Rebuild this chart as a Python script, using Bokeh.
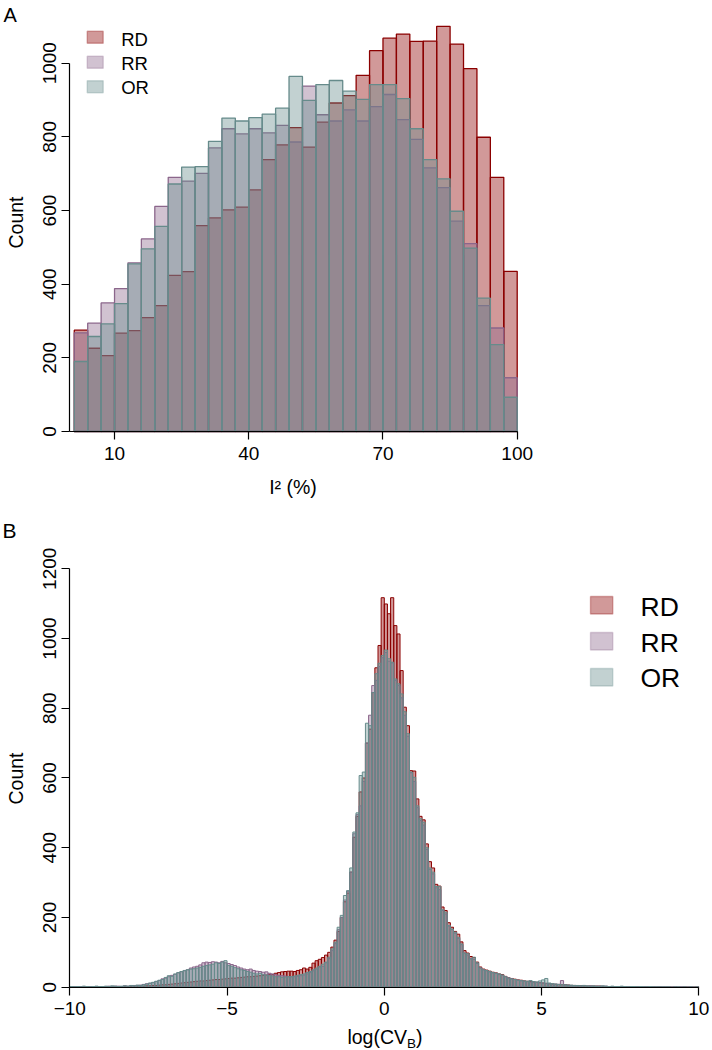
import numpy as np
from math import pi
from bokeh.plotting import figure
from bokeh.models import Label, BoxAnnotation, FixedTicker, Range1d
from bokeh.layouts import column
from bokeh.embed import file_html
from bokeh.resources import INLINE

# ---------------- data ----------------
series = ["RD", "RR", "OR"]
series_colors = ["#8B0000", "#8B668B", "#668B8B"]   # darkred, plum4, paleturquoise4

# Panel A: I^2 (%) histogram, 33 bins of width 3 starting at 1
i2_bin_start = 1
i2_bin_width = 3
i2_rd = [275, 226, 206, 267, 274, 309, 342, 424, 434, 559, 580, 602, 609, 656, 738, 778, 825,
         772, 840, 892, 912, 967, 1034, 1068, 1079, 1059, 1060, 1100, 1052, 985, 799, 690, 435]
i2_rr = [268, 294, 349, 388, 458, 523, 611, 690, 680, 701, 770, 822, 808, 822, 811, 831, 786,
         938, 860, 843, 873, 843, 882, 915, 847, 793, 716, 662, 571, 510, 342, 281, 146]
i2_or = [190, 258, 292, 347, 455, 496, 557, 672, 718, 719, 788, 851, 843, 852, 862, 878, 964,
         899, 942, 953, 924, 902, 942, 942, 904, 822, 738, 686, 598, 498, 362, 236, 93]
i2_xticks = [10, 40, 70, 100]
i2_yticks = [0, 200, 400, 600, 800, 1000]

# Panel B: log(CV_B) histogram, 200 bins of width 0.1 from -10 to 10
cv_bin_start = -10
cv_bin_width = 0.1
cv_rd = [
    1, 1, 1, 1, 1, 1, 1, 1, 1, 1,
    1, 1, 2, 1, 1, 2, 1, 2, 2, 2,
    2, 3, 3, 3, 4, 4, 5, 5, 6, 7,
    7, 8, 9, 10, 11, 12, 13, 14, 15, 16,
    17, 18, 18, 19, 20, 21, 22, 22, 23, 24,
    25, 26, 26, 27, 28, 29, 30, 30, 31, 32,
    33, 34, 35, 37, 36, 40, 42, 44, 45, 46,
    46, 45, 48, 50, 55, 52, 57, 69, 76, 80,
    85, 92, 100, 115, 135, 160, 200, 245, 270, 330,
    430, 490, 560, 600, 700, 740, 845, 916, 980, 1117,
    1099, 1071, 1117, 1037, 1013, 908, 803, 750, 621, 620,
    540, 490, 480, 411, 360, 342, 295, 290, 230, 220,
    185, 172, 160, 152, 130, 105, 98, 88, 85, 72,
    58, 52, 49, 46, 43, 41, 38, 36, 31, 27,
    25, 23, 21, 20, 18, 17, 16, 15, 14, 13,
    12, 11, 10, 9, 8, 8, 7, 7, 6, 5,
    5, 4, 4, 4, 3, 3, 3, 3, 3, 2,
    2, 2, 2, 2, 2, 2, 1, 2, 1, 1,
    1, 1, 1, 1, 1, 1, 1, 2, 1, 1,
    1, 0, 1, 0, 0, 1, 0, 0, 0, 1]
cv_rr = [
    1, 2, 1, 2, 1, 1, 2, 1, 2, 1,
    2, 2, 3, 2, 3, 3, 2, 4, 3, 4,
    5, 5, 6, 8, 10, 11, 13, 16, 19, 24,
    26, 30, 34, 37, 41, 44, 47, 50, 55, 58,
    60, 64, 70, 72, 71, 73, 72, 70, 74, 70,
    68, 65, 62, 58, 55, 52, 50, 52, 48, 46,
    45, 43, 44, 40, 38, 36, 34, 33, 32, 30,
    30, 30, 31, 33, 35, 38, 42, 47, 52, 58,
    60, 70, 82, 105, 125, 165, 200, 250, 275, 330,
    440, 495, 520, 590, 700, 780, 865, 880, 920, 945,
    960, 935, 930, 880, 865, 830, 780, 720, 615, 590,
    515, 478, 465, 395, 338, 325, 285, 280, 220, 210,
    175, 165, 155, 140, 122, 98, 92, 82, 80, 68,
    55, 50, 47, 44, 41, 40, 36, 34, 30, 27,
    24, 22, 20, 18, 17, 16, 15, 15, 14, 13,
    12, 11, 10, 9, 9, 8, 19, 6, 6, 5,
    5, 4, 4, 5, 3, 4, 3, 3, 3, 3,
    3, 2, 2, 2, 2, 2, 1, 2, 1, 2,
    1, 1, 2, 1, 1, 1, 1, 1, 1, 1,
    1, 0, 1, 0, 1, 0, 0, 1, 0, 0]
cv_or = [
    2, 1, 2, 1, 3, 2, 1, 2, 3, 2,
    2, 3, 2, 4, 3, 2, 3, 4, 3, 5,
    4, 6, 5, 7, 9, 12, 14, 17, 20, 22,
    28, 33, 31, 38, 42, 45, 48, 50, 52, 53,
    55, 57, 60, 62, 64, 66, 70, 68, 72, 76,
    62, 60, 56, 53, 50, 48, 45, 43, 40, 38,
    40, 36, 35, 33, 32, 30, 30, 28, 29, 30,
    30, 32, 34, 36, 38, 42, 45, 50, 55, 60,
    66, 72, 86, 110, 129, 172, 206, 263, 277, 342,
    445, 500, 607, 617, 757, 750, 845, 899, 929, 951,
    967, 942, 932, 884, 870, 841, 790, 727, 617, 602,
    520, 483, 473, 400, 342, 330, 289, 289, 222, 215,
    177, 167, 158, 143, 124, 98, 96, 81, 86, 70,
    55, 50, 48, 45, 42, 40, 38, 35, 30, 26,
    24, 22, 20, 19, 18, 17, 19, 16, 15, 18,
    21, 25, 12, 10, 9, 8, 7, 7, 6, 6,
    5, 5, 4, 5, 4, 3, 4, 3, 3, 4,
    3, 2, 3, 2, 2, 3, 2, 1, 2, 2,
    1, 2, 1, 1, 2, 1, 1, 1, 1, 1,
    1, 0, 1, 1, 0, 1, 0, 1, 0, 1]
cv_xticks = [-10, -5, 0, 5, 10]
cv_xtick_labels = ["\u221210", "\u22125", "0", "5", "10"]
cv_yticks = [0, 200, 400, 600, 800, 1000, 1200]

# ---------------- layout constants (pixels) ----------------
FONT = "Liberation Sans"
W = 712
HA, HB = 505, 545
# panel A: x=0 at px 69.3, 4.474 px per unit; y=0 at px 431, 0.3683 px per unit
AX0, AKX, AY0, AKY = 69.3, 4.474, 431.0, 0.3683
# panel B: x=-10 at px 69.3, 31.45 px per unit; y=0 at px 986.7, 0.3487 px per unit
BX0, BKX, BY0, BKY = 69.3, 31.45, 986.7, 0.3487
BASE_SHIFT = 0.33   # compensation (in em) for where the text baseline is drawn


def a_xy(rx, ry):
    return (rx - AX0) / AKX, (AY0 - ry) / AKY


def b_xy(rx, ry):
    return cv_bin_start + (rx - BX0) / BKX, (BY0 - ry) / BKY


def style_axes(p):
    p.xgrid.visible = False
    p.ygrid.visible = False
    p.outline_line_color = None
    p.background_fill_color = "white"
    p.border_fill_color = "white"
    for ax in p.axis:
        ax.axis_line_color = "black"
        ax.axis_line_width = 1.2
        ax.major_tick_line_color = "black"
        ax.major_tick_line_width = 1.2
        ax.major_tick_out = 8
        ax.major_tick_in = 0
        ax.minor_tick_line_color = None
        ax.major_label_text_font = FONT
        ax.major_label_text_font_size = "19px"
        ax.major_label_text_color = "black"
    p.xaxis.major_label_standoff = 7
    p.yaxis.major_label_standoff = 6
    p.yaxis.major_label_orientation = "vertical"


def label(p, conv, rx, ry, text, size, angle=0, align="left"):
    shift = BASE_SHIFT * size
    if angle:
        rx -= shift
    else:
        ry -= shift
    x, y = conv(rx, ry)
    p.add_layout(Label(x=x, y=y, text=text, angle=angle, text_font=FONT,
                       text_font_size=f"{size}px", text_color="black", text_align=align,
                       text_baseline="alphabetic"))


def swatch(p, conv, r_left, r_right, r_top, r_bottom, color):
    x0, y0 = conv(r_left, r_bottom)
    x1, y1 = conv(r_right, r_top)
    p.add_layout(BoxAnnotation(left=x0, right=x1, bottom=y0, top=y1, fill_color=color,
                               fill_alpha=0.4, line_color=color, line_width=1.4))


def make_fig(h, conv, y_off):
    x0, y0 = conv(0, y_off + h)
    x1, y1 = conv(W, y_off)
    return figure(width=W, height=h, output_backend="svg", toolbar_location=None,
                  x_range=Range1d(x0, x1), y_range=Range1d(y0, y1),
                  min_border_left=0, min_border_right=0, min_border_top=0, min_border_bottom=0)


# ---------------- panel A ----------------
pA = make_fig(HA, a_xy, 0)
nA = len(i2_rd)
leftA = i2_bin_start + i2_bin_width * np.arange(nA)
for vals, col in zip([i2_rd, i2_rr, i2_or], series_colors):
    pA.quad(left=leftA, right=leftA + i2_bin_width, bottom=0, top=vals,
            fill_color=col, fill_alpha=0.4, line_color=col, line_width=1.3)
style_axes(pA)
pA.xaxis.ticker = FixedTicker(ticks=i2_xticks)
pA.yaxis.ticker = FixedTicker(ticks=i2_yticks)
pA.xaxis.fixed_location = 0
pA.yaxis.fixed_location = 0
pA.xaxis.bounds = (0, 100)
pA.yaxis.bounds = (0, 1000)

label(pA, a_xy, 3, 21, "A", 20)
label(pA, a_xy, 21.5, 222, "Count", 19.5, angle=pi / 2, align="center")
label(pA, a_xy, 292.5, 493, "I² (%)", 19.5, align="center")
for name, col, top, base in zip(series, series_colors, [30.7, 55.7, 80.2], [45, 69.3, 93.5]):
    swatch(pA, a_xy, 86.7, 102.7, top, top + 12, col)
    label(pA, a_xy, 120.7, base, name, 18.5)

# ---------------- panel B ----------------
pB = make_fig(HB, b_xy, HA)
nB = len(cv_rd)
leftB = cv_bin_start + cv_bin_width * np.arange(nB)
for vals, col in zip([cv_rd, cv_rr, cv_or], series_colors):
    pB.quad(left=leftB, right=leftB + cv_bin_width, bottom=0, top=vals,
            fill_color=col, fill_alpha=0.4, line_color=col, line_width=1.0)
style_axes(pB)
pB.xaxis.ticker = FixedTicker(ticks=cv_xticks)
pB.xaxis.major_label_overrides = {t: s for t, s in zip(cv_xticks, cv_xtick_labels)}
pB.yaxis.ticker = FixedTicker(ticks=cv_yticks)
pB.xaxis.fixed_location = 0
pB.yaxis.fixed_location = cv_bin_start
pB.xaxis.bounds = (-10, 10)
pB.yaxis.bounds = (0, 1200)

label(pB, b_xy, 2, 537, "B", 21)
label(pB, b_xy, 21.5, 778, "Count", 19.5, angle=pi / 2, align="center")
label(pB, b_xy, 406.5, 1043, "log(CV", 19.5, align="right")
label(pB, b_xy, 406.5, 1047, "B", 13.5)
label(pB, b_xy, 415.5, 1043, ")", 19.5)
for name, col, top, base in zip(series, series_colors, [596, 632, 668], [615, 651, 686.5]):
    swatch(pB, b_xy, 590, 612.3, top, top + 17.5, col)
    label(pB, b_xy, 640, base, name, 26.5)

layout = column(pA, pB)
open("out.html", "w").write(file_html(layout, INLINE))
